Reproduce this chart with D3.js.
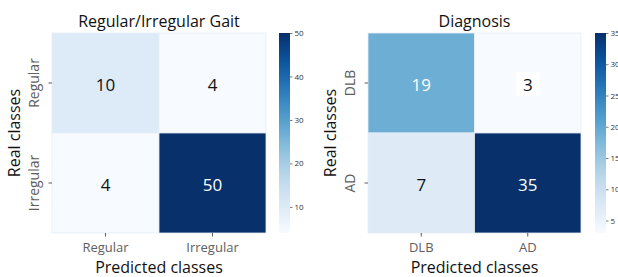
<!DOCTYPE html>
<html><head><meta charset="utf-8">
<script src="https://cdn.jsdelivr.net/npm/d3@7"></script>
<style>body{margin:0;background:#fff}svg{display:block}</style>
</head><body>
<svg id="chart" width="618" height="277"></svg>
<script>
// ---- data ----
const gaitTitle = "Regular/Irregular Gait";
const gaitClasses = ["Regular", "Irregular"];
const gaitMatrix = [[10, 4], [4, 50]];
const gaitTicks = [10, 20, 30, 40, 50];

const diagTitle = "Diagnosis";
const diagClasses = ["DLB", "AD"];
const diagMatrix = [[19, 3], [7, 35]];
const diagTicks = [5, 10, 15, 20, 25, 30, 35];
const diagBoxed = [[false, true], [false, false]];

const xLabel = "Predicted classes";
const yLabel = "Real classes";

const FONT = "'Open Sans', 'Liberation Sans', sans-serif";
const svg = d3.select("#chart");

const panels = [
  {title: gaitTitle, classes: gaitClasses, matrix: gaitMatrix, ticks: gaitTicks, boxed: [[false,false],[false,false]],
   x0: 52, x1: 266, cbX: 279, yLabX: 14, id: "g"},
  {title: diagTitle, classes: diagClasses, matrix: diagMatrix, ticks: diagTicks, boxed: diagBoxed,
   x0: 368, x1: 581, cbX: 595, yLabX: 330, id: "d"}
];
const y0 = 33, y1 = 233, cbW = 11;

function lum(c) {
  const r = d3.rgb(c);
  const f = v => { v /= 255; return v <= 0.03928 ? v / 12.92 : Math.pow((v + 0.055) / 1.055, 2.4); };
  return 0.2126 * f(r.r) + 0.7152 * f(r.g) + 0.0722 * f(r.b);
}

panels.forEach(p => {
  const vals = p.matrix.flat();
  const vmin = d3.min(vals), vmax = d3.max(vals);
  const color = d3.scaleSequential(d3.interpolateBlues).domain([vmin, vmax]);
  const x = d3.scaleBand().domain(p.classes).range([p.x0, p.x1]);
  const y = d3.scaleBand().domain(p.classes).range([y0, y1]);
  const g = svg.append("g");

  const cells = [];
  p.matrix.forEach((row, i) => row.forEach((v, j) => cells.push({r: p.classes[i], c: p.classes[j], v, box: p.boxed[i][j]})));

  g.selectAll("rect.cell").data(cells).join("rect")
    .attr("x", d => x(d.c)).attr("y", d => y(d.r))
    .attr("width", x.bandwidth()).attr("height", y.bandwidth())
    .attr("fill", d => color(d.v))
    .attr("stroke", "#e6edf5").attr("stroke-width", 0.8);

  g.selectAll("rect.box").data(cells.filter(d => d.box)).join("rect")
    .attr("x", d => x(d.c) + x.bandwidth() / 2 - 12).attr("y", d => y(d.r) + y.bandwidth() / 2 - 11)
    .attr("width", 24).attr("height", 24).attr("fill", "#fff");

  g.selectAll("text.ann").data(cells).join("text")
    .attr("x", d => x(d.c) + x.bandwidth() / 2)
    .attr("y", d => y(d.r) + y.bandwidth() / 2 + 1)
    .attr("text-anchor", "middle").attr("dominant-baseline", "central")
    .attr("font-family", FONT).attr("font-size", 17)
    .attr("fill", d => lum(color(d.v)) < 0.408 ? "#fff" : "#111")
    .text(d => d.v);

  // x axis
  const xa = g.append("g").attr("transform", `translate(0,${y1})`)
    .call(d3.axisBottom(x).tickSize(3.5).tickPadding(6));
  xa.select(".domain").remove();
  xa.selectAll("line").attr("stroke", "#333").attr("stroke-width", 0.8);
  xa.selectAll("text").attr("font-family", FONT).attr("font-size", 13).attr("fill", "#606060");

  // y axis
  const ya = g.append("g").attr("transform", `translate(${p.x0},0)`)
    .call(d3.axisLeft(y).tickSize(3.5).tickPadding(5));
  ya.select(".domain").remove();
  ya.selectAll("line").attr("stroke", "#333").attr("stroke-width", 0.8);
  ya.selectAll("text").attr("font-family", FONT).attr("font-size", 14).attr("fill", "#606060")
    .attr("text-anchor", "middle").attr("x", -13).attr("y", 0).attr("dy", "0")
    .attr("transform", "rotate(-90, -13, 0)");

  // title
  g.append("text").attr("x", (p.x0 + p.x1) / 2).attr("y", 27)
    .attr("text-anchor", "middle").attr("font-family", FONT).attr("font-size", 16).attr("fill", "#111")
    .text(p.title);
  // labels
  g.append("text").attr("x", (p.x0 + p.x1) / 2).attr("y", 273)
    .attr("text-anchor", "middle").attr("font-family", FONT).attr("font-size", 16).attr("fill", "#111")
    .text(xLabel);
  g.append("text").attr("transform", `translate(${p.yLabX + 6},${(y0 + y1) / 2}) rotate(-90)`)
    .attr("text-anchor", "middle").attr("font-family", FONT).attr("font-size", 16).attr("fill", "#111")
    .text(yLabel);

  // colorbar
  const gradId = "grad-" + p.id;
  const grad = svg.append("defs").append("linearGradient").attr("id", gradId)
    .attr("x1", 0).attr("y1", 1).attr("x2", 0).attr("y2", 0);
  d3.range(0, 1.0001, 0.05).forEach(t => grad.append("stop").attr("offset", t).attr("stop-color", d3.interpolateBlues(t)));
  const cy = d3.scaleLinear().domain([vmin, vmax]).range([y1, y0]);
  g.append("rect").attr("x", p.cbX).attr("y", y0).attr("width", cbW).attr("height", y1 - y0)
    .attr("fill", `url(#${gradId})`);
  const ca = g.append("g").attr("transform", `translate(${p.cbX + cbW},0)`)
    .call(d3.axisRight(cy).tickValues(p.ticks).tickSize(2.5).tickPadding(2));
  ca.select(".domain").remove();
  ca.selectAll("line").attr("stroke", "#444").attr("stroke-width", 0.7);
  ca.selectAll("text").attr("font-family", FONT).attr("font-size", 8).attr("fill", "#333");
});
</script>
</body></html>
